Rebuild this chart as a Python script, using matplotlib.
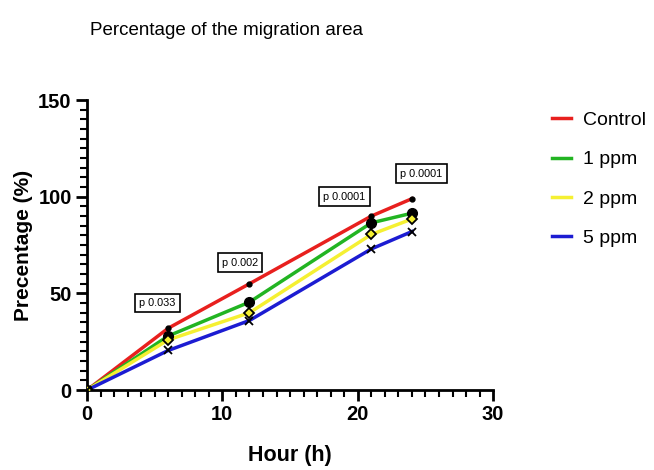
import numpy as np
import matplotlib
matplotlib.use("Agg")
import matplotlib.pyplot as plt
from matplotlib.ticker import MultipleLocator
from matplotlib.lines import Line2D

plt.rcParams['font.family'] = ['Liberation Sans', 'DejaVu Sans']

hours = [0, 6, 12, 21, 24]
control = [0, 32, 55, 90, 99]
ppm1 = [0, 28, 45.5, 86.5, 91.5]
ppm2 = [0, 26, 40, 80.5, 88.5]
ppm5 = [0, 20.5, 36, 73, 82]
labels = ["Control", "1 ppm", "2 ppm", "5 ppm"]
p_labels = ["p 0.033", "p 0.002", "p 0.0001", "p 0.0001"]
p_x = [5.2, 11.3, 19.0, 24.7]
p_y = [45, 66, 100, 112]

fig = plt.figure(figsize=(6.54, 4.70), dpi=100)
ax = fig.add_axes([0.133, 0.170, 0.621, 0.617])

colors = ['#e8201e', '#22b422', '#f5f032', '#1c1cd2']
series = [control, ppm1, ppm2, ppm5]
for vals, c in zip(series, colors):
    ax.plot(hours, vals, color=c, lw=2.5, zorder=2)

# markers
ax.plot(hours, control, 'o', color='black', ms=3.5, zorder=3)
ax.plot(hours, ppm1, 'o', color='black', ms=7, zorder=3)
ax.plot(hours, ppm2, 'D', mfc='#f5f032', mec='black', mew=1.3, ms=5.5, zorder=4)
ax.plot(hours, ppm5, 'x', color='black', mew=1.3, ms=6, zorder=4)

for t, x, y in zip(p_labels, p_x, p_y):
    ax.text(x, y, t, fontsize=7.8, ha='center', va='center',
            bbox=dict(boxstyle='square,pad=0.4', fc='white', ec='black', lw=1.2))

ax.set_xlim(0, 30)
ax.set_ylim(0, 150)
ax.xaxis.set_major_locator(MultipleLocator(10))
ax.xaxis.set_minor_locator(MultipleLocator(1))
ax.yaxis.set_major_locator(MultipleLocator(50))
ax.yaxis.set_minor_locator(MultipleLocator(5))
for s in ['top', 'right']:
    ax.spines[s].set_visible(False)
for s in ['left', 'bottom']:
    ax.spines[s].set_linewidth(2)
ax.tick_params(which='major', length=8, width=2, labelsize=14.5, pad=3)
ax.tick_params(which='minor', length=5, width=1.5)
for lab in ax.get_xticklabels() + ax.get_yticklabels():
    lab.set_fontweight('bold')

ax.set_xlabel("Hour (h)", fontsize=15.5, fontweight='bold', labelpad=15)
ax.set_ylabel("Precentage (%)", fontsize=15, fontweight='bold', labelpad=4)
fig.text(0.138, 0.935, "Percentage of the migration area", fontsize=13.5, ha='left', va='center')

handles = [Line2D([0], [0], color=c, lw=2.5) for c in colors]
fig.legend(handles, labels, loc='upper left', bbox_to_anchor=(0.817, 0.80),
           frameon=False, fontsize=14, handlelength=1.0, labelspacing=1.12,
           handletextpad=0.6)

fig.savefig("out.png", dpi=100)
